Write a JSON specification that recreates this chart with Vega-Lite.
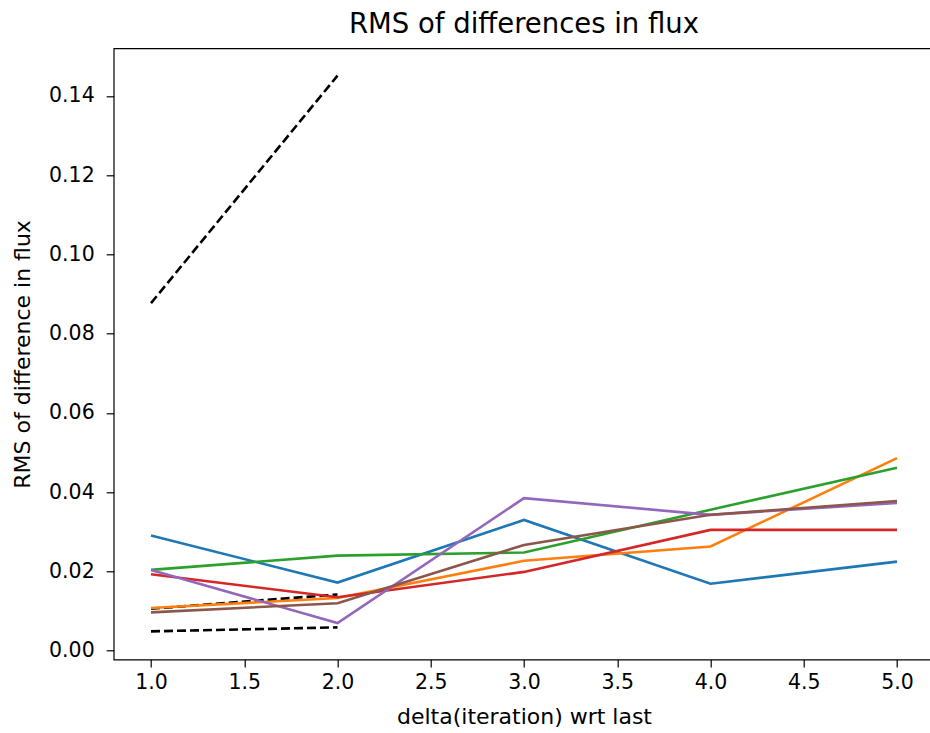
{
  "$schema": "https://vega.github.io/schema/vega-lite/v6.json",
  "width": 820.6,
  "height": 611.2,
  "autosize": {"type": "none"},
  "padding": {"left": 113.7, "top": 48.3, "right": 0, "bottom": 73},
  "background": "white",
  "config": {
    "font": "DejaVu Sans",
    "view": {"stroke": "black", "strokeWidth": 1.2},
    "axis": {"grid": false, "domain": false, "tickColor": "black", "tickSize": 7.5, "tickWidth": 1.2, "labelColor": "black", "labelFont": "DejaVu Sans", "labelFontSize": 20.5, "titleFont": "DejaVu Sans", "titleFontSize": 22, "titleFontWeight": "normal", "titleColor": "black"}
  },
  "title": {"text": "RMS of differences in flux", "font": "DejaVu Sans", "fontSize": 27.5, "fontWeight": "normal", "color": "black", "offset": 10, "anchor": "middle"},
  "data": {"values": [
    {"s": "k1", "x": 1, "y": 0.0877}, {"s": "k1", "x": 2, "y": 0.1451},
    {"s": "k2", "x": 1, "y": 0.0049}, {"s": "k2", "x": 2, "y": 0.0059},
    {"s": "k3", "x": 1, "y": 0.0106}, {"s": "k3", "x": 2, "y": 0.0142},
    {"s": "C0", "x": 1, "y": 0.0291}, {"s": "C0", "x": 2, "y": 0.0172}, {"s": "C0", "x": 3, "y": 0.0330}, {"s": "C0", "x": 4, "y": 0.0169}, {"s": "C0", "x": 5, "y": 0.0225},
    {"s": "C1", "x": 1, "y": 0.0108}, {"s": "C1", "x": 2, "y": 0.0133}, {"s": "C1", "x": 3, "y": 0.0227}, {"s": "C1", "x": 4, "y": 0.0263}, {"s": "C1", "x": 5, "y": 0.0486},
    {"s": "C2", "x": 1, "y": 0.0204}, {"s": "C2", "x": 2, "y": 0.0240}, {"s": "C2", "x": 3, "y": 0.0248}, {"s": "C2", "x": 4, "y": 0.0356}, {"s": "C2", "x": 5, "y": 0.0462},
    {"s": "C3", "x": 1, "y": 0.0193}, {"s": "C3", "x": 2, "y": 0.0135}, {"s": "C3", "x": 3, "y": 0.0199}, {"s": "C3", "x": 4, "y": 0.0305}, {"s": "C3", "x": 5, "y": 0.0305},
    {"s": "C4", "x": 1, "y": 0.0204}, {"s": "C4", "x": 2, "y": 0.0070}, {"s": "C4", "x": 3, "y": 0.0385}, {"s": "C4", "x": 4, "y": 0.0343}, {"s": "C4", "x": 5, "y": 0.0373},
    {"s": "C5", "x": 1, "y": 0.0097}, {"s": "C5", "x": 2, "y": 0.0120}, {"s": "C5", "x": 3, "y": 0.0267}, {"s": "C5", "x": 4, "y": 0.0343}, {"s": "C5", "x": 5, "y": 0.0378}
  ]},
  "encoding": {
    "x": {"field": "x", "type": "quantitative", "scale": {"domain": [0.8, 5.2], "nice": false, "zero": false}, "axis": {"values": [1, 1.5, 2, 2.5, 3, 3.5, 4, 4.5, 5], "format": ".1f", "title": "delta(iteration) wrt last", "labelPadding": 6, "titlePadding": 13}},
    "y": {"field": "y", "type": "quantitative", "scale": {"domain": [-0.0022, 0.152], "nice": false, "zero": false}, "axis": {"values": [0, 0.02, 0.04, 0.06, 0.08, 0.1, 0.12, 0.14], "format": ".2f", "title": "RMS of difference in flux", "labelPadding": 12, "titlePadding": 14}}
  },
  "layer": [
    {
      "transform": [{"filter": "indexof(['k1','k2','k3'], datum.s) >= 0"}],
      "mark": {"type": "line", "color": "black", "strokeWidth": 2.6, "strokeDash": [9, 4], "clip": true},
      "encoding": {"detail": {"field": "s"}}
    },
    {
      "transform": [{"filter": "indexof(['k1','k2','k3'], datum.s) < 0"}],
      "mark": {"type": "line", "strokeWidth": 2.6, "clip": true},
      "encoding": {"color": {"field": "s", "type": "nominal", "legend": null, "scale": {"domain": ["C0", "C1", "C2", "C3", "C4", "C5"], "range": ["#1f77b4", "#ff7f0e", "#2ca02c", "#d62728", "#9467bd", "#8c564b"]}}}
    }
  ]
}
